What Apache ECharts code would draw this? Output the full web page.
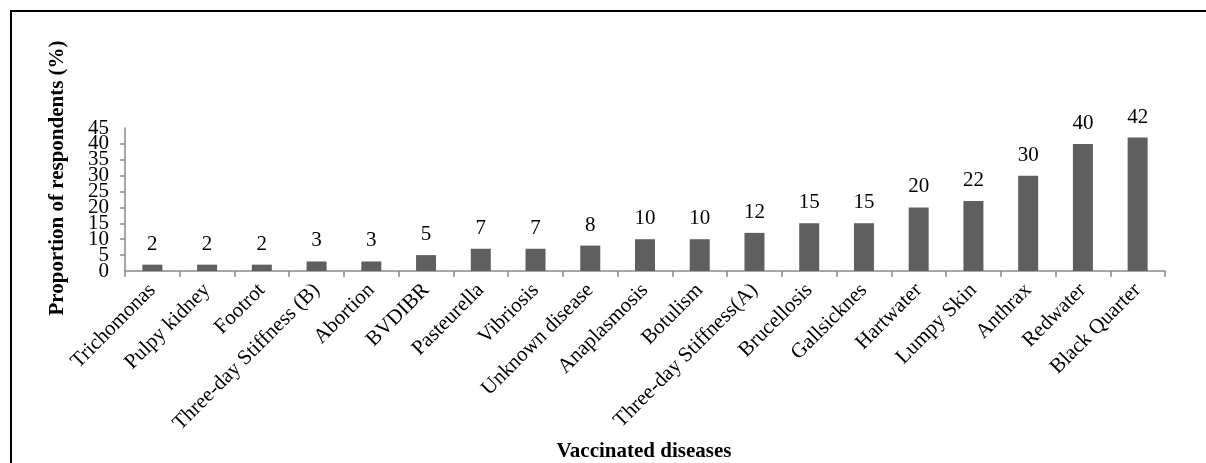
<!DOCTYPE html>
<html>
<head>
<meta charset="utf-8">
<script src="https://cdn.jsdelivr.net/npm/echarts@6/dist/echarts.min.js"></script>
<style>
  html, body { margin: 0; padding: 0; background: #fff; }
  #chart { width: 1206px; height: 463px; }
</style>
</head>
<body>
<div id="chart"></div>
<script>
const categories = [
  "Trichomonas", "Pulpy kidney", "Footrot", "Three-day Stiffness (B)", "Abortion",
  "BVDIBR", "Pasteurella", "Vibriosis", "Unknown disease", "Anaplasmosis",
  "Botulism", "Three-day Stiffness(A)", "Brucellosis", "Gallsicknes", "Hartwater",
  "Lumpy Skin", "Anthrax", "Redwater", "Black Quarter"
];
const values = [2, 2, 2, 3, 3, 5, 7, 7, 8, 10, 10, 12, 15, 15, 20, 22, 30, 40, 42];
const yMin = 0;
const yMax = 45;
const yStep = 5;
const yTitle = "Proportion of respondents (%)";
const xTitle = "Vaccinated diseases";

const font = "'Liberation Serif', 'Times New Roman', serif";
const axisColor = "#898989";

// tick labels sit very close together, so the end labels (0 and 45)
// go on a second overlaid axis to stop them hiding their neighbours
const labelStyle = {
  margin: 16,
  fontSize: 21,
  fontFamily: font,
  color: "#000"
};

const myChart = echarts.init(document.getElementById("chart"));
const option = {
  animation: false,
  textStyle: { fontFamily: font, color: "#000" },
  grid: { left: 125, right: 41, top: 128, bottom: 192 },
  graphic: [
    {
      type: "rect",
      shape: { x: 11, y: 11, width: 1210, height: 470 },
      style: { fill: "none", stroke: "#000", lineWidth: 2 },
      silent: true
    },
    {
      type: "text",
      x: 58,
      y: 178,
      rotation: Math.PI / 2,
      style: {
        text: yTitle,
        font: "bold 21px " + font,
        fill: "#000",
        textAlign: "center",
        textVerticalAlign: "middle"
      }
    },
    {
      type: "text",
      x: 644,
      y: 452,
      style: {
        text: xTitle,
        font: "bold 21px " + font,
        fill: "#000",
        textAlign: "center",
        textVerticalAlign: "middle"
      }
    }
  ],
  xAxis: {
    type: "category",
    data: categories,
    axisLine: { lineStyle: { color: axisColor, width: 1.5 } },
    axisTick: { show: true, alignWithLabel: false, length: 6, lineStyle: { color: axisColor, width: 1.5 } },
    axisLabel: {
      rotate: 45,
      interval: 0,
      margin: 16,
      fontSize: 21,
      fontFamily: font,
      color: "#000"
    }
  },
  yAxis: [
    {
      type: "value",
      min: yMin,
      max: yMax,
      interval: yStep,
      splitLine: { show: false },
      axisLine: { show: true, lineStyle: { color: axisColor, width: 1.5 } },
      axisTick: { show: true, length: 5, lineStyle: { color: axisColor, width: 1.5 } },
      axisLabel: Object.assign({}, labelStyle, { showMinLabel: false, showMaxLabel: false })
    },
    {
      type: "value",
      position: "left",
      min: yMin,
      max: yMax,
      interval: yMax - yMin,
      splitLine: { show: false },
      axisLine: { show: false },
      axisTick: { show: false },
      axisLabel: Object.assign({}, labelStyle, { showMinLabel: true, showMaxLabel: true })
    }
  ],
  series: [
    {
      type: "bar",
      data: values,
      yAxisIndex: 0,
      barWidth: 20,
      itemStyle: { color: "#5f5f5f" },
      label: {
        show: true,
        position: "top",
        distance: 10,
        fontSize: 21,
        fontFamily: font,
        color: "#000"
      }
    }
  ]
};
myChart.setOption(option);
</script>
</body>
</html>
